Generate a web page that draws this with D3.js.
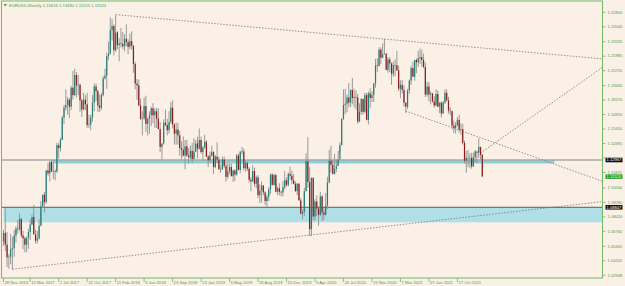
<!DOCTYPE html>
<html>
<head>
<meta charset="utf-8">
<script src="https://cdn.jsdelivr.net/npm/d3@7"></script>
<style>
    html, body { margin: 0; padding: 0; background: #faf0e6; }
    svg { display: block; font-family: "Liberation Sans", Arial, sans-serif; }
</style>
</head>
<body>
<div id="chart"></div>
<script>
// EURUSD weekly, [open, high, low, close] per week
const titleText = "EURUSD,Weekly  1.13416 1.13480 1.11515 1.11524";

const ohlc2016 = [
    [1.0588,1.0690,1.0550,1.0663],[1.0663,1.0875,1.0505,1.0560],[1.0560,1.0670,1.0366,1.0450],
    [1.0450,1.0480,1.0352,1.0455],[1.0455,1.0655,1.0390,1.0520]
];
const ohlc2017 = [
    [1.0520,1.0630,1.0340,1.0530],[1.0530,1.0685,1.0455,1.0640],[1.0640,1.0720,1.0580,1.0700],
    [1.0700,1.0775,1.0655,1.0695],[1.0695,1.0830,1.0680,1.0785],[1.0785,1.0790,1.0620,1.0640],
    [1.0640,1.0680,1.0520,1.0615],[1.0615,1.0630,1.0495,1.0560],[1.0560,1.0630,1.0495,1.0620],
    [1.0620,1.0700,1.0525,1.0670],[1.0670,1.0780,1.0600,1.0735],[1.0735,1.0820,1.0735,1.0800],
    [1.0800,1.0905,1.0650,1.0650],[1.0650,1.0690,1.0570,1.0595],[1.0595,1.0680,1.0570,1.0615],
    [1.0615,1.0780,1.0605,1.0725],[1.0725,1.0940,1.0720,1.0895],[1.0895,1.0990,1.0880,1.0995],
    [1.0995,1.1020,1.0840,1.0930],[1.0930,1.1210,1.0915,1.1205],[1.1205,1.1270,1.1160,1.1180],
    [1.1180,1.1285,1.1110,1.1280],[1.1280,1.1295,1.1195,1.1195],[1.1195,1.1295,1.1130,1.1200],
    [1.1200,1.1215,1.1120,1.1195],[1.1195,1.1445,1.1185,1.1425],[1.1425,1.1445,1.1310,1.1400],
    [1.1400,1.1490,1.1370,1.1470],[1.1470,1.1680,1.1470,1.1665],[1.1665,1.1775,1.1610,1.1750],
    [1.1750,1.1910,1.1725,1.1775],[1.1775,1.1845,1.1690,1.1820],[1.1820,1.1835,1.1660,1.1760],
    [1.1760,1.1940,1.1730,1.1925],[1.1925,1.2070,1.1820,1.1860],[1.1860,1.2090,1.1855,1.2035],
    [1.2035,1.2060,1.1840,1.1945],[1.1945,1.2035,1.1860,1.1950],[1.1950,1.1960,1.1715,1.1815],
    [1.1815,1.1830,1.1670,1.1735],[1.1735,1.1880,1.1730,1.1820],[1.1820,1.1860,1.1730,1.1780],
    [1.1780,1.1880,1.1575,1.1600],[1.1600,1.1690,1.1575,1.1605],[1.1605,1.1690,1.1555,1.1665],
    [1.1665,1.1860,1.1630,1.1795],[1.1795,1.1960,1.1720,1.1935],[1.1935,1.1960,1.1810,1.1895],
    [1.1895,1.1905,1.1715,1.1770],[1.1770,1.1865,1.1715,1.1750],[1.1750,1.1880,1.1730,1.1860],
    [1.1860,1.2025,1.1850,1.2005]
];
const ohlc2018 = [
    [1.2005,1.2090,1.1995,1.2030],[1.2030,1.2230,1.1915,1.2200],[1.2200,1.2325,1.2165,1.2220],
    [1.2220,1.2535,1.2215,1.2425],[1.2425,1.2520,1.2335,1.2460],[1.2460,1.2475,1.2205,1.2250],
    [1.2250,1.2555,1.2235,1.2405],[1.2405,1.2415,1.2260,1.2295],[1.2295,1.2355,1.2155,1.2310],
    [1.2310,1.2445,1.2275,1.2305],[1.2305,1.2410,1.2260,1.2285],[1.2285,1.2390,1.2240,1.2350],
    [1.2350,1.2475,1.2285,1.2320],[1.2320,1.2345,1.2215,1.2280],[1.2280,1.2395,1.2260,1.2330],
    [1.2330,1.2415,1.2255,1.2290],[1.2290,1.2295,1.2055,1.2130],[1.2130,1.2150,1.1910,1.1960],
    [1.1960,1.2000,1.1820,1.1945],[1.1945,1.1995,1.1765,1.1770],[1.1770,1.1830,1.1645,1.1655],
    [1.1655,1.1720,1.1510,1.1660],[1.1660,1.1840,1.1645,1.1765],[1.1765,1.1855,1.1540,1.1610],
    [1.1610,1.1665,1.1510,1.1655],[1.1655,1.1720,1.1525,1.1685],[1.1685,1.1760,1.1590,1.1745],
    [1.1745,1.1790,1.1615,1.1685],[1.1685,1.1745,1.1575,1.1720],[1.1720,1.1750,1.1575,1.1655],
    [1.1655,1.1745,1.1565,1.1565],[1.1565,1.1625,1.1365,1.1410],[1.1410,1.1440,1.1300,1.1440],
    [1.1440,1.1650,1.1430,1.1620],[1.1620,1.1735,1.1590,1.1600],[1.1600,1.1655,1.1510,1.1555],
    [1.1555,1.1720,1.1525,1.1625],[1.1625,1.1800,1.1610,1.1750],[1.1750,1.1815,1.1570,1.1605],
    [1.1605,1.1615,1.1430,1.1525],[1.1525,1.1620,1.1430,1.1560],[1.1560,1.1620,1.1430,1.1510],
    [1.1510,1.1550,1.1335,1.1400],[1.1400,1.1460,1.1300,1.1385],[1.1385,1.1500,1.1325,1.1335],
    [1.1335,1.1470,1.1215,1.1415],[1.1415,1.1470,1.1325,1.1335],[1.1335,1.1400,1.1265,1.1320],
    [1.1320,1.1420,1.1305,1.1375],[1.1375,1.1445,1.1270,1.1305],[1.1305,1.1485,1.1300,1.1370],
    [1.1370,1.1470,1.1365,1.1440]
];
const ohlc2019 = [
    [1.1440,1.1500,1.1310,1.1395],[1.1395,1.1570,1.1385,1.1470],[1.1470,1.1500,1.1350,1.1365],
    [1.1365,1.1415,1.1290,1.1405],[1.1405,1.1515,1.1395,1.1455],[1.1455,1.1470,1.1320,1.1325],
    [1.1325,1.1340,1.1235,1.1295],[1.1295,1.1370,1.1275,1.1335],[1.1335,1.1420,1.1325,1.1365],
    [1.1365,1.1375,1.1175,1.1235],[1.1235,1.1340,1.1225,1.1325],[1.1325,1.1450,1.1270,1.1300],
    [1.1300,1.1325,1.1215,1.1215],[1.1215,1.1255,1.1185,1.1215],[1.1215,1.1325,1.1210,1.1300],
    [1.1300,1.1325,1.1225,1.1245],[1.1245,1.1265,1.1110,1.1150],[1.1150,1.1265,1.1135,1.1200],
    [1.1200,1.1265,1.1175,1.1235],[1.1235,1.1265,1.1155,1.1155],[1.1155,1.1215,1.1105,1.1205],
    [1.1205,1.1215,1.1115,1.1170],[1.1170,1.1350,1.1160,1.1335],[1.1335,1.1350,1.1205,1.1210],
    [1.1210,1.1370,1.1180,1.1370],[1.1370,1.1410,1.1345,1.1370],[1.1370,1.1395,1.1205,1.1225],
    [1.1225,1.1290,1.1195,1.1270],[1.1270,1.1285,1.1200,1.1220],[1.1220,1.1235,1.1100,1.1125],
    [1.1125,1.1150,1.1025,1.1110],[1.1110,1.1250,1.1110,1.1200],[1.1200,1.1230,1.1065,1.1090],
    [1.1090,1.1160,1.1050,1.1145],[1.1145,1.1165,1.0965,1.0990],[1.0990,1.1085,1.0925,1.1030],
    [1.1030,1.1110,1.0925,1.1075],[1.1075,1.1075,1.0990,1.1015],[1.1015,1.1025,1.0905,1.0940],
    [1.0940,1.0995,1.0880,1.0975],[1.0975,1.1060,1.0940,1.1040],[1.1040,1.1180,1.1000,1.1170],
    [1.1170,1.1180,1.1075,1.1080],[1.1080,1.1175,1.1075,1.1165],[1.1165,1.1175,1.1015,1.1020],
    [1.1020,1.1065,1.0990,1.1050],[1.1050,1.1095,1.0990,1.1020],[1.1020,1.1030,1.0980,1.1015],
    [1.1015,1.1115,1.0980,1.1060],[1.1060,1.1200,1.1040,1.1120],[1.1120,1.1145,1.1065,1.1080],
    [1.1080,1.1190,1.1065,1.1175]
];
const ohlc2020 = [
    [1.1175,1.1240,1.1125,1.1160],[1.1160,1.1205,1.1085,1.1120],[1.1120,1.1175,1.1085,1.1090],
    [1.1090,1.1110,1.1020,1.1025],[1.1025,1.1095,1.0990,1.1090],[1.1090,1.1095,1.0945,1.0945],
    [1.0945,1.0965,1.0825,1.0830],[1.0830,1.0865,1.0780,1.0845],[1.0845,1.1055,1.0810,1.1025],
    [1.1025,1.1355,1.1025,1.1285],[1.1285,1.1495,1.1055,1.1105],[1.1105,1.1235,1.0635,1.0695],
    [1.0695,1.1145,1.0635,1.1140],[1.1140,1.1145,1.0770,1.0805],[1.0805,1.0955,1.0770,1.0935],
    [1.0935,1.0990,1.0810,1.0875],[1.0875,1.0895,1.0725,1.0820],[1.0820,1.1020,1.0810,1.0980],
    [1.0980,1.0990,1.0765,1.0840],[1.0840,1.0875,1.0775,1.0820],[1.0820,1.1010,1.0815,1.0900],
    [1.0900,1.1150,1.0870,1.1100],[1.1100,1.1385,1.1095,1.1290],[1.1290,1.1420,1.1185,1.1255],
    [1.1255,1.1295,1.1170,1.1175],[1.1175,1.1350,1.1170,1.1220],[1.1220,1.1300,1.1190,1.1245],
    [1.1245,1.1375,1.1245,1.1300],[1.1300,1.1450,1.1355,1.1425],[1.1425,1.1655,1.1425,1.1655],
    [1.1655,1.1910,1.1645,1.1775],[1.1775,1.1915,1.1695,1.1785],[1.1785,1.1865,1.1710,1.1840],
    [1.1840,1.1965,1.1755,1.1795],[1.1795,1.1910,1.1755,1.1905],[1.1905,1.2010,1.1780,1.1835],
    [1.1835,1.1915,1.1755,1.1845],[1.1845,1.1900,1.1735,1.1840],[1.1840,1.1870,1.1610,1.1630],
    [1.1630,1.1790,1.1625,1.1715],[1.1715,1.1835,1.1690,1.1825],[1.1825,1.1830,1.1690,1.1715],
    [1.1715,1.1880,1.1705,1.1860],[1.1860,1.1880,1.1640,1.1645],[1.1645,1.1890,1.1605,1.1875],
    [1.1875,1.1920,1.1745,1.1835],[1.1835,1.1895,1.1800,1.1860],[1.1860,1.1965,1.1800,1.1960],
    [1.1960,1.2175,1.1925,1.2120],[1.2120,1.2180,1.2060,1.2115],[1.2115,1.2275,1.2110,1.2255],
    [1.2255,1.2275,1.2130,1.2185]
];
const ohlc2021 = [
    [1.2185,1.2310,1.2180,1.2215],[1.2215,1.2350,1.2215,1.2220],[1.2220,1.2225,1.2075,1.2080],
    [1.2080,1.2190,1.2055,1.2170],[1.2170,1.2190,1.2060,1.2135],[1.2135,1.2145,1.1950,1.2045],
    [1.2045,1.2150,1.2020,1.2120],[1.2120,1.2170,1.2025,1.2120],[1.2120,1.2245,1.2070,1.2075],
    [1.2075,1.2115,1.1895,1.1915],[1.1915,1.1990,1.1835,1.1950],[1.1950,1.1990,1.1875,1.1905],
    [1.1905,1.1945,1.1760,1.1795],[1.1795,1.1795,1.1705,1.1760],[1.1760,1.1915,1.1740,1.1900],
    [1.1900,1.1995,1.1870,1.1985],[1.1985,1.2115,1.1950,1.2095],[1.2095,1.2150,1.2020,1.2020],
    [1.2020,1.2165,1.1985,1.2165],[1.2165,1.2180,1.2050,1.2145],[1.2145,1.2245,1.2105,1.2180],
    [1.2180,1.2265,1.2130,1.2190],[1.2190,1.2255,1.2105,1.2165],[1.2165,1.2220,1.2095,1.2105],
    [1.2105,1.2145,1.1845,1.1865],[1.1865,1.1975,1.1845,1.1935],[1.1935,1.1975,1.1805,1.1865],
    [1.1865,1.1895,1.1780,1.1875],[1.1875,1.1880,1.1795,1.1805],[1.1805,1.1850,1.1750,1.1770],
    [1.1770,1.1910,1.1765,1.1870],[1.1870,1.1900,1.1755,1.1760],[1.1760,1.1795,1.1705,1.1795],
    [1.1795,1.1805,1.1665,1.1700],[1.1700,1.1810,1.1700,1.1795],[1.1795,1.1910,1.1785,1.1880],
    [1.1880,1.1910,1.1805,1.1815],[1.1815,1.1845,1.1700,1.1725],[1.1725,1.1755,1.1685,1.1720],
    [1.1720,1.1725,1.1565,1.1595],[1.1595,1.1640,1.1530,1.1575],[1.1575,1.1625,1.1525,1.1600],
    [1.1600,1.1670,1.1585,1.1645],[1.1645,1.1690,1.1535,1.1560],[1.1560,1.1615,1.1515,1.1565],
    [1.1565,1.1610,1.1430,1.1445],[1.1445,1.1465,1.1265,1.1290],[1.1290,1.1375,1.1185,1.1315],
    [1.1315,1.1385,1.1235,1.1315],[1.1315,1.1355,1.1225,1.1315],[1.1315,1.1360,1.1220,1.1240],
    [1.1240,1.1360,1.1235,1.1320]
];
const ohlc2022 = [
    [1.1320,1.1385,1.1280,1.1370],[1.1370,1.1370,1.1270,1.1360],[1.1360,1.1485,1.1315,1.1410],
    [1.1410,1.1410,1.1300,1.1340],[1.13416,1.13480,1.11515,1.11524]
];

// time axis: bar index and label
const timeTickBars = [0, 15, 31, 47, 63, 79, 95, 111, 127, 143, 159, 175, 191, 207, 223, 239, 255];
const timeTickLabels = ["28 Nov 2016", "12 Mar 2017", "2 Jul 2017", "22 Oct 2017", "11 Feb 2018", "3 Jun 2018",
    "23 Sep 2018", "13 Jan 2019", "5 May 2019", "25 Aug 2019", "15 Dec 2019", "5 Apr 2020", "26 Jul 2020",
    "15 Nov 2020", "7 Mar 2021", "27 Jun 2021", "17 Oct 2021"];

// price axis labels
const priceTickLabels = ["1.25800", "1.24540", "1.23245", "1.21985", "1.20720", "1.19430", "1.18170", "1.16910",
    "1.15650", "1.14395", "1.13135", "1.11875", "1.10540", "1.09280", "1.08020", "1.06760", "1.05465", "1.04205", "1.02948"];

// horizontal levels (price, box text)
const levelPrices = [1.12962, 1.08851];
const levelLabels = ["1.12967", "1.08847"];
const bandTops = [1.12962, 1.08851];
const bandBottoms = [1.12657, 1.07547];
const bandStartBars = [28, 0];
const bandEndBars = [309.5, 337];

// dotted trend lines: [barIndex, price] pairs
const trendLines = [
    [[63, 1.2560], [337, 1.2174]],
    [[5, 1.0347], [337, 1.0936]],
    [[226, 1.1722], [337, 1.1108]],
    [[268, 1.1357], [337, 1.2107]]
];

const W = 625, H = 286;
const plotLeft = 2, plotRight = 602.5, plotTop = 1.5, plotBottom = 278;

const candles = [].concat(ohlc2016, ohlc2017, ohlc2018, ohlc2019, ohlc2020, ohlc2021, ohlc2022)
    .map((d, i) => ({ i: i, o: d[0], h: d[1], l: d[2], c: d[3] }));

const x = d3.scaleLinear().domain([0, 269]).range([3.5, 482.3]);
const y = d3.scaleLinear().domain([1.0294, 1.2580]).range([275.3, 12.3]);

const svg = d3.select("#chart").append("svg")
    .attr("width", W)
    .attr("height", H);

svg.append("rect").attr("width", W).attr("height", H).attr("fill", "#faf0e6");

svg.append("clipPath").attr("id", "clip")
    .append("rect").attr("x", plotLeft).attr("y", plotTop)
    .attr("width", plotRight - plotLeft).attr("height", plotBottom - plotTop);
const inner = svg.append("g").attr("clip-path", "url(#clip)");

// bands
bandTops.forEach((t, k) => {
    const bx0 = Math.max(plotLeft, x(bandStartBars[k]));
    const bx1 = Math.min(plotRight, x(bandEndBars[k]));
    inner.append("rect")
        .attr("x", bx0)
        .attr("y", y(t))
        .attr("width", bx1 - bx0)
        .attr("height", y(bandBottoms[k]) - y(t))
        .attr("fill", k === 0 ? "#86d2da" : "#b0e0e6");
});

// level lines
levelPrices.forEach((p, k) => {
    inner.append("line")
        .attr("x1", plotLeft).attr("x2", plotRight)
        .attr("y1", y(p)).attr("y2", y(p))
        .attr("stroke", k === 0 ? "#a9a9a9" : "#5a5a5a")
        .attr("stroke-width", k === 0 ? 1.3 : 1);
});

// trend lines
trendLines.forEach(tl => {
    inner.append("line")
        .attr("x1", x(tl[0][0])).attr("y1", y(tl[0][1]))
        .attr("x2", x(tl[1][0])).attr("y2", y(tl[1][1]))
        .attr("stroke", "#7a7a7a")
        .attr("stroke-width", 0.8)
        .attr("stroke-dasharray", "1.5,1.5");
});

// candles
inner.selectAll("line.wick")
    .data(candles)
    .enter()
    .append("line")
    .attr("class", "wick")
    .attr("x1", d => x(d.i)).attr("x2", d => x(d.i))
    .attr("y1", d => y(d.h)).attr("y2", d => y(d.l))
    .attr("stroke", "#8f8f8f")
    .attr("stroke-width", 0.9);

inner.selectAll("rect.body")
    .data(candles)
    .enter()
    .append("rect")
    .attr("class", "body")
    .attr("x", d => x(d.i) - 0.6)
    .attr("y", d => y(Math.max(d.o, d.c)))
    .attr("width", 1.2)
    .attr("height", d => Math.max(0.6, Math.abs(y(d.o) - y(d.c))))
    .attr("fill", d => d.c >= d.o ? "#1f7f74" : "#8b1a1a");

// frame
svg.append("rect")
    .attr("x", plotLeft - 0.5).attr("y", plotTop - 0.5)
    .attr("width", plotRight - plotLeft + 0.5).attr("height", plotBottom - plotTop + 0.5)
    .attr("fill", "none")
    .attr("stroke", "#74b86a")
    .attr("stroke-width", 1);

// price axis (a label sitting under a level box is hidden, as in the terminal)
const priceAxis = svg.append("g");
priceTickLabels.forEach(lbl => {
    const py = y(parseFloat(lbl));
    priceAxis.append("line")
        .attr("x1", plotRight).attr("x2", plotRight + 3)
        .attr("y1", py).attr("y2", py)
        .attr("stroke", "#74b86a").attr("stroke-width", 0.8);
    const covered = levelPrices.some(p => Math.abs(y(p) - py) < 3);
    if (covered) return;
    priceAxis.append("text")
        .attr("x", 607.5).attr("y", py + 1.3)
        .text(lbl)
        .style("font-size", "4.1px")
        .style("fill", "#4f9e4a");
});

// time axis
const timeAxis = svg.append("g");
timeTickBars.forEach((b, k) => {
    const tx = x(b);
    timeAxis.append("line")
        .attr("x1", tx).attr("x2", tx)
        .attr("y1", plotBottom).attr("y2", plotBottom + 4)
        .attr("stroke", "#74b86a").attr("stroke-width", 0.8);
    timeAxis.append("text")
        .attr("x", tx + 1).attr("y", 283.5)
        .text(timeTickLabels[k])
        .style("font-size", "4.2px")
        .style("fill", "#4f9e4a");
});

// level boxes
levelPrices.forEach((p, k) => {
    svg.append("rect")
        .attr("x", 605.5).attr("y", y(p) - 2.3)
        .attr("width", 17).attr("height", 4.6)
        .attr("fill", "#111");
    svg.append("text")
        .attr("x", 606.5).attr("y", y(p) + 1.4)
        .text(levelLabels[k])
        .style("font-size", "4.1px")
        .style("fill", "#fff");
});

// current price box
const last = candles[candles.length - 1];
svg.append("rect")
    .attr("x", 605.5).attr("y", y(last.c) - 2.1)
    .attr("width", 17).attr("height", 4.4)
    .attr("fill", "#16a01e");
svg.append("text")
    .attr("x", 606.5).attr("y", y(last.c) + 1.6)
    .text(last.c.toFixed(5))
    .style("font-size", "4.1px")
    .style("fill", "#fff");

// title
svg.append("path")
    .attr("d", "M3.5,4 L7,4 L5.25,6.5 Z")
    .attr("fill", "#4f9e4a");
svg.append("text")
    .attr("x", 9).attr("y", 7)
    .text(titleText)
    .style("font-size", "4.2px")
    .style("fill", "#4f9e4a");
</script>
</body>
</html>
